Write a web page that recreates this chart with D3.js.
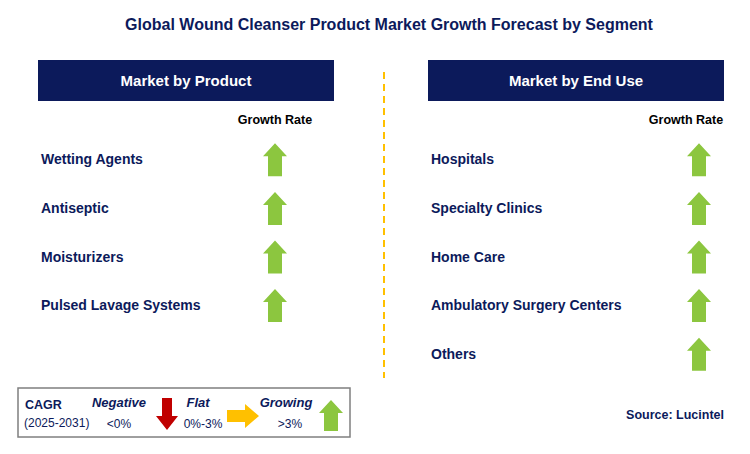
<!DOCTYPE html><html><head><meta charset="utf-8"><script src="https://cdn.jsdelivr.net/npm/d3@7"></script>
<style>body{margin:0;background:#fff}</style></head><body><script>
const title="Global Wound Cleanser Product Market Growth Forecast by Segment";
const productCategories=["Wetting Agents","Antiseptic","Moisturizers","Pulsed Lavage Systems"];
const productTrends=["up","up","up","up"];
const endUseCategories=["Hospitals","Specialty Clinics","Home Care","Ambulatory Surgery Centers","Others"];
const endUseTrends=["up","up","up","up","up"];
const panelTitles=["Market by Product","Market by End Use"];
const source="Source: Lucintel";
const W=750,H=454,navy="#0c1a5b",green="#8cc63f",red="#c00000",orange="#ffc000";
const svg=d3.select("body").append("svg").attr("width",W).attr("height",H).style("font-family","Arial, 'Liberation Sans', sans-serif");
svg.append("text").attr("x",389).attr("y",30).attr("text-anchor","middle").attr("font-size",16).attr("font-weight","bold").attr("fill",navy).text(title);
svg.append("line").attr("x1",384).attr("x2",384).attr("y1",72).attr("y2",378).attr("stroke",orange).attr("stroke-width",2).attr("stroke-dasharray","7,5");
function upArrow(g,cx,top,bot,color){const hw=12,sw=7,hb=top+13;
 g.append("path").attr("d",`M${cx},${top}L${cx+hw},${hb}L${cx+sw},${hb}L${cx+sw},${bot}L${cx-sw},${bot}L${cx-sw},${hb}L${cx-hw},${hb}Z`).attr("fill",color);}
const y=d3.scaleBand().domain(d3.range(5)).range([135,378]);
function panel(x0,x1,ax,gx,name,cats,trends){
 svg.append("rect").attr("x",x0).attr("y",60).attr("width",x1-x0).attr("height",41).attr("fill",navy);
 svg.append("text").attr("x",(x0+x1)/2).attr("y",86).attr("text-anchor","middle").attr("fill","#fff").attr("font-weight","bold").attr("font-size",15).text(name);
 svg.append("text").attr("x",gx).attr("y",124).attr("text-anchor","middle").attr("font-weight","bold").attr("font-size",12.5).attr("fill","#000").text("Growth Rate");
 cats.forEach((c,i)=>{const cy=y(i)+y.bandwidth()/2;
  svg.append("text").attr("x",x0+3).attr("y",cy+5).attr("font-weight","bold").attr("font-size",14).attr("fill",navy).text(c);
  if(trends[i]==="up")upArrow(svg,ax,cy-16,cy+17,green);});
}
panel(38,334,275,275,panelTitles[0],productCategories,productTrends);
panel(428,724,699,686,panelTitles[1],endUseCategories,endUseTrends);
svg.append("rect").attr("x",18).attr("y",388).attr("width",332).attr("height",49).attr("fill","#fff").attr("stroke","#7f7f7f").attr("stroke-width",1.5);
const lt=(x,y,t,o)=>svg.append("text").attr("x",x).attr("y",y).attr("font-size",o.s||12).attr("fill",o.c||navy).attr("font-weight",o.b?"bold":null).attr("font-style",o.i?"italic":null).attr("text-anchor",o.a||"start").text(t);
lt(25,409,"CAGR",{b:1,s:12.5});lt(24,427,"(2025-2031)",{s:12});
lt(119,407,"Negative",{b:1,i:1,s:13,a:"middle"});lt(119,428,"<0%",{s:12,a:"middle"});
svg.append("path").attr("d","M162,398L172,398L172,416L178,416L167,430L156,416L162,416Z").attr("fill",red);
lt(198,407,"Flat",{b:1,i:1,s:13,a:"middle"});lt(203,428,"0%-3%",{s:12,a:"middle"});
svg.append("path").attr("d","M227,410L245,410L245,404L259,416L245,428L245,422L227,422Z").attr("fill",orange);
lt(286,407,"Growing",{b:1,i:1,s:13,a:"middle"});lt(290,428,">3%",{s:12,a:"middle"});
upArrow(svg,331,400,431,green);
lt(724,419,source,{b:1,s:12.5,a:"end"});
</script></body></html>
